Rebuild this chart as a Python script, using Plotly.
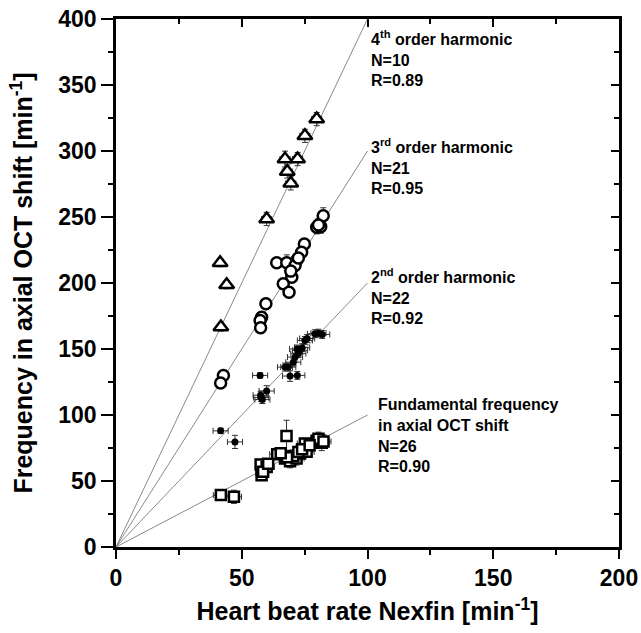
import plotly.graph_objects as go

# ---- data ----
fund_x = [41.7, 46.9, 67.8, 57.9, 57.9, 57.5, 59.9, 64.1, 67.2, 69.2, 71.8, 73.2, 75.1,
          79.8, 81.8, 75.8, 70.5, 72.5, 80.5, 82.5, 58.5, 68.0, 74.0, 77.0, 60.5, 65.5]
fund_y = [39.3, 38.0, 84.0, 54.4, 58.2, 62.5, 60.7, 70.3, 67.1, 65.0, 67.1, 70.8, 78.4,
          80.5, 79.0, 72.1, 69.0, 72.0, 82.0, 80.0, 57.0, 68.0, 74.0, 77.0, 63.0, 71.0]
fund_xerr = [3, 3, 2, 2, 2, 2, 3, 3, 2, 3, 3, 3, 3, 3, 3, 3, 2, 3, 3, 3, 2, 2, 3, 3, 2, 2]
fund_yerr = [3, 5, 12, 4, 4, 4, 4, 4, 4, 5, 5, 4, 4, 5, 6, 4, 4, 5, 5, 5, 4, 4, 5, 5, 4, 4]

h2_x = [57.3, 59.9, 57.7, 58.2, 41.6, 47.3, 68.5, 67.2, 69.2, 72.1, 71.2, 72.5, 73.2,
        75.1, 79.1, 80.5, 82.0, 72.0, 74.0, 57.5, 70.5, 76.0]
h2_y = [130.0, 118.2, 113.2, 111.7, 88.0, 79.6, 136.3, 136.3, 129.5, 130.0, 143.9, 146.5,
        149.0, 156.5, 161.6, 162.0, 161.0, 150.0, 151.0, 115.0, 140.0, 158.0]
h2_xerr = [3, 3, 3, 3, 3, 3, 3, 3, 3, 3, 3, 3, 3, 3, 3, 3, 3, 3, 3, 3, 3, 3]
h2_yerr = [2, 4, 3, 3, 2, 5, 3, 3, 4, 3, 3, 3, 3, 3, 3, 3, 3, 3, 3, 3, 3, 3]

h3_x = [82.4, 79.8, 81.4, 74.9, 73.8, 71.8, 63.9, 67.9, 71.2, 69.9, 66.5, 68.8, 59.6,
        57.9, 57.3, 57.5, 42.7, 41.6, 72.5, 69.5, 80.5]
h3_y = [251.0, 242.2, 242.7, 229.6, 223.3, 217.0, 215.3, 215.3, 213.2, 204.4, 199.4, 193.0,
        184.3, 174.1, 171.6, 166.1, 130.0, 124.2, 219.0, 209.0, 244.0]
h3_xerr = [2, 2, 2, 2, 2, 2, 2, 2, 2, 2, 2, 2, 2, 2, 2, 2, 2, 2, 2, 2, 2]
h3_yerr = [6, 5, 5, 4, 4, 4, 4, 6, 4, 4, 4, 4, 4, 4, 4, 4, 3, 3, 4, 4, 5]

h4_x = [79.8, 75.1, 67.2, 72.2, 68.1, 69.5, 59.9, 41.4, 44.0, 41.7]
h4_y = [324.2, 311.5, 293.9, 293.9, 284.5, 275.5, 248.5, 215.3, 198.6, 166.6]
h4_xerr = [2, 2, 2, 2, 2, 2, 2, 1, 1, 1]
h4_yerr = [5, 5, 6, 5, 5, 5, 5, 3, 3, 3]

line_slopes = [1, 2, 3, 4]
line_xmax = 100

x_ticks = [0, 50, 100, 150, 200]
y_ticks = [0, 50, 100, 150, 200, 250, 300, 350, 400]

block_texts = [
    "4<sup>th</sup> order harmonic<br>N=10<br>R=0.89",
    "3<sup>rd</sup> order harmonic<br>N=21<br>R=0.95",
    "2<sup>nd</sup> order harmonic<br>N=22<br>R=0.92",
    "Fundamental frequency<br>in axial OCT shift<br>N=26<br>R=0.90",
]
block_x = [100.5, 100.5, 100.5, 103.3]
block_y = [370.0, 288.5, 189.5, 84.7]

FONT = "Liberation Sans, Arial, sans-serif"

fig = go.Figure()

# reference lines through origin
for k in line_slopes:
    fig.add_trace(go.Scatter(x=[0, line_xmax], y=[0, k * line_xmax], mode="lines",
                             line=dict(color="#8a8a8a", width=1), showlegend=False,
                             hoverinfo="skip"))

def err(arr):
    return dict(type="data", array=arr, visible=True, color="#333333", thickness=1, width=3)

fig.add_trace(go.Scatter(x=fund_x, y=fund_y, mode="markers", showlegend=False,
                         error_x=err(fund_xerr), error_y=err(fund_yerr),
                         marker=dict(symbol="square", size=10, color="white",
                                     line=dict(width=2.5, color="black"))))
fig.add_trace(go.Scatter(x=h2_x, y=h2_y, mode="markers", showlegend=False,
                         error_x=err(h2_xerr), error_y=err(h2_yerr),
                         marker=dict(symbol="circle", size=7, color="black")))
fig.add_trace(go.Scatter(x=h3_x, y=h3_y, mode="markers", showlegend=False,
                         error_x=err(h3_xerr), error_y=err(h3_yerr),
                         marker=dict(symbol="circle", size=11, color="white",
                                     line=dict(width=2.5, color="black"))))
fig.add_trace(go.Scatter(x=h4_x, y=h4_y, mode="markers", showlegend=False,
                         error_x=err(h4_xerr), error_y=err(h4_yerr),
                         marker=dict(symbol="triangle-up", size=13, color="white",
                                     line=dict(width=2.5, color="black"))))

# invisible trace to activate mirror axes
fig.add_trace(go.Scatter(x=[0], y=[0], xaxis="x2", yaxis="y2", mode="markers",
                         marker=dict(opacity=0), showlegend=False, hoverinfo="skip"))

ann_font = dict(family=FONT, size=16, color="black", weight="bold")
for x, y, t in zip(block_x, block_y, block_texts):
    fig.add_annotation(x=x, y=y, text=t, showarrow=False, xanchor="left", yanchor="middle",
                       align="left", font=ann_font)

tickfont = dict(family=FONT, size=23, color="black", weight="bold")
axis_common = dict(showline=True, linecolor="black", linewidth=2.5, showgrid=False,
                   zeroline=False, ticks="outside", tickcolor="black", tickwidth=2,
                   tickfont=tickfont, automargin=False)
minor_out = dict(dtick=25, ticks="outside", ticklen=5, tickwidth=1.5, tickcolor="black")
minor_in = dict(dtick=25, ticks="inside", ticklen=5, tickwidth=1.5, tickcolor="black")

fig.update_layout(
    width=641, height=633,
    margin=dict(l=116, r=22, t=19, b=86, autoexpand=False),
    paper_bgcolor="white", plot_bgcolor="white",
    xaxis=dict(range=[0, 200], tickvals=x_ticks, ticktext=[str(v) for v in x_ticks],
               ticklen=9, minor=minor_out,
               title=dict(text="Heart beat rate Nexfin [min<sup>-1</sup>]", standoff=13,
                          font=dict(family=FONT, size=25, color="black", weight="bold")),
               **axis_common),
    yaxis=dict(range=[0, 400], tickvals=y_ticks, ticktext=[str(v) for v in y_ticks],
               ticklen=12, minor=minor_out,
               title=dict(text="Frequency in axial OCT shift [min<sup>-1</sup>]", standoff=19,
                          font=dict(family=FONT, size=25, color="black", weight="bold")),
               **axis_common),
    xaxis2=dict(range=[0, 200], overlaying="x", side="top", anchor="y", showline=True,
                linecolor="black", linewidth=2.5, showgrid=False, zeroline=False,
                ticks="inside", tickvals=x_ticks[1:-1], ticklen=8, tickwidth=2, tickcolor="black",
                showticklabels=False, automargin=False, minor=minor_in),
    yaxis2=dict(range=[0, 400], overlaying="y", side="right", anchor="x", showline=True,
                linecolor="black", linewidth=2.5, showgrid=False, zeroline=False,
                ticks="inside", tickvals=y_ticks[1:-1], ticklen=8, tickwidth=2, tickcolor="black",
                showticklabels=False, automargin=False, minor=minor_in),
)

fig.write_html("out.html")
